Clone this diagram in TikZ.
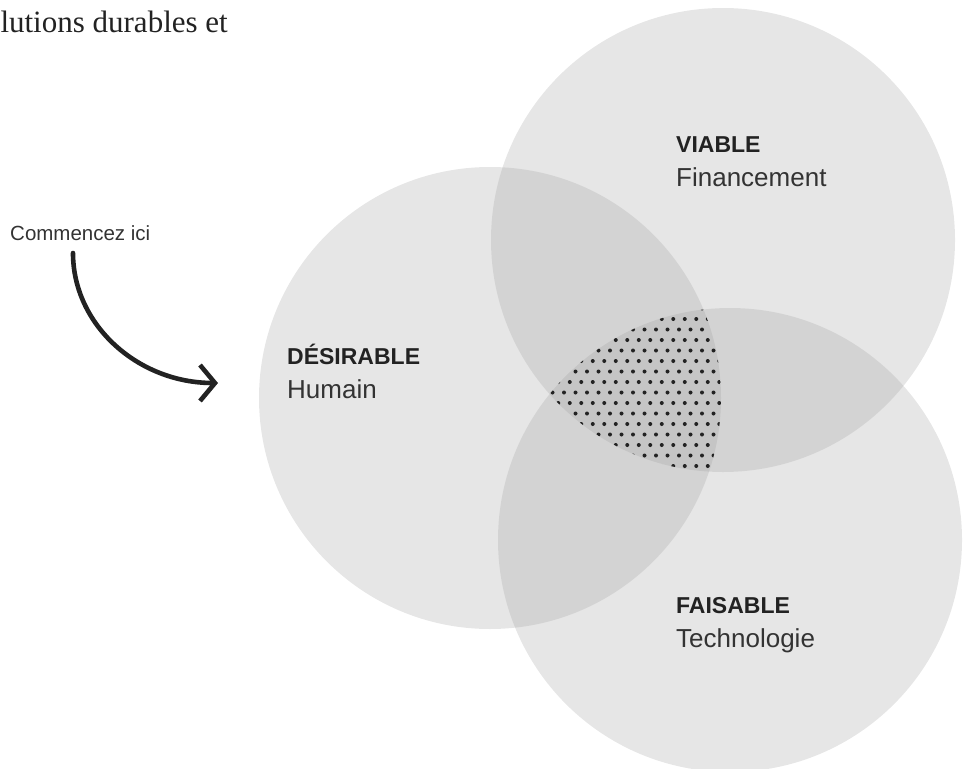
\documentclass[tikz,border=0pt]{standalone}
\usepackage{fontspec}
\setmainfont{Liberation Serif}
\setsansfont{Liberation Sans}
\usetikzlibrary{arrows.meta}
\definecolor{encre}{HTML}{222222}
\definecolor{texte}{HTML}{333333}

\begin{document}
\begin{tikzpicture}[x=1pt, y=-1pt,
        zone/.style={fill=black!41, fill opacity=0.24},
        titre/.style={anchor=base west, inner sep=0pt, text=encre,
            font=\sffamily\bfseries\fontsize{23}{28}\selectfont},
        sous/.style={anchor=base west, inner sep=0pt, text=texte,
            font=\sffamily\fontsize{26}{30}\selectfont}]
        \useasboundingbox (0,0) rectangle (963,768);
        \clip (0,0) rectangle (963,768);

        \node[anchor=base east, inner sep=0pt, text=encre, font=\fontsize{31}{35}\selectfont] (intro) at (228, 33) {lutions durables et};

        \fill[zone] (490, 398) circle[radius=231pt];
        \fill[zone] (723, 240) circle[radius=232pt];
        \fill[zone] (730, 540) circle[radius=232pt];

        % points dans l'intersection des trois cercles
        \begin{scope}
            \clip (490, 398) circle[radius=231pt];
            \clip (723, 240) circle[radius=232pt];
            \clip (730, 540) circle[radius=232pt];
            \foreach \r in {0,...,16} {
                \pgfmathsetmacro{\dx}{mod(\r,2)*5.75}
                \foreach \c in {0,...,20}
                    \fill[encre] (529.5+\c*11.5+\dx, 308.5+\r*10.5) circle[radius=2pt];
            }
        \end{scope}

        \node[titre] (viable) at (676, 152) {VIABLE};
        \node[sous] (financement) at (676, 186) {Financement};

        \node[titre] (desirable) at (287, 364) {DÉSIRABLE};
        \node[sous] (humain) at (287, 398) {Humain};

        \node[titre] (faisable) at (676, 613) {FAISABLE};
        \node[sous] (techno) at (676, 647) {Technologie};

        \node[anchor=base west, inner sep=0pt, text=texte, font=\sffamily\fontsize{20.5}{24}\selectfont] (depart) at (10, 240) {Commencez ici};
        \coordinate (debut) at (73, 253);
        \coordinate (fin) at (218, 383);
        \draw[encre, line width=4.6pt, line cap=round, -{Straight Barb[length=15pt, width=36pt]}]
            (debut) .. controls +(0, 72) and +(-80, 0) .. (fin);
    \end{tikzpicture}
\end{document}
